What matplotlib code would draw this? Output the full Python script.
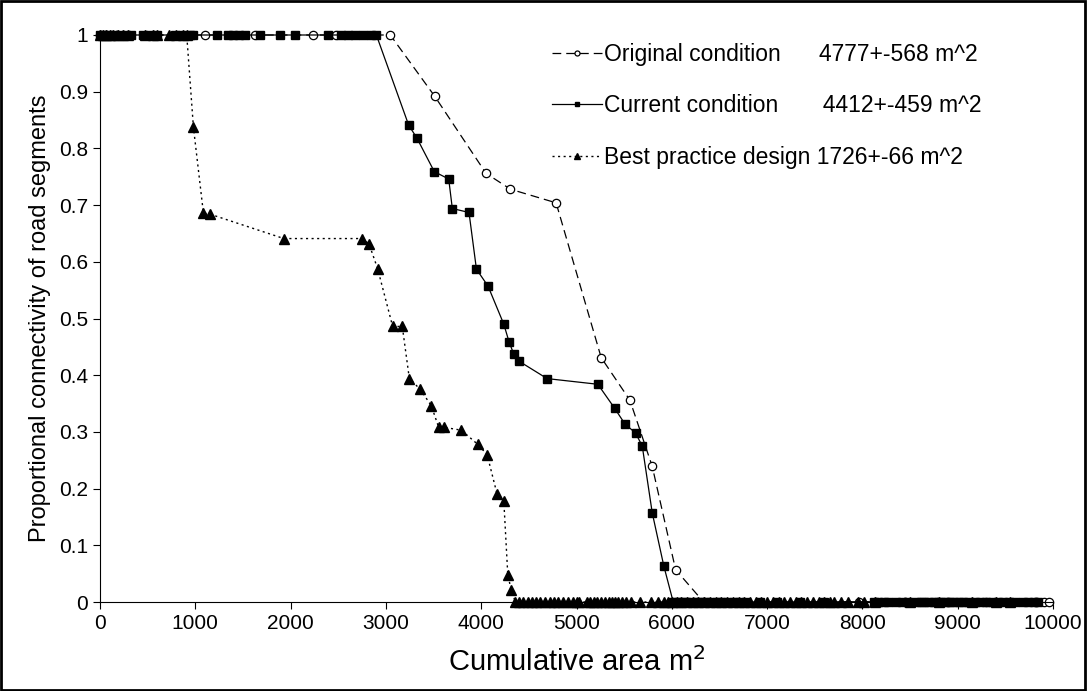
# import packages
import matplotlib
matplotlib.use('Agg')
import matplotlib.pyplot as plt
from matplotlib.patches import Rectangle

plt.rcParams['font.family'] = ['Liberation Sans', 'DejaVu Sans']

# original condition (open circles, dashed)
orig_top_x = [0, 60, 180, 1103, 1628, 2237, 2479, 3046]
orig_mid_x = [3512, 4051, 4307, 4786, 5259, 5560, 5795, 6040]
orig_mid_y = [0.892, 0.756, 0.728, 0.704, 0.431, 0.356, 0.239, 0.057]
orig_zero_x = [6334, 7962, 8450, 8900, 9300, 9821, 9905, 9958]

# current condition (filled squares, solid)
cur_top_x = [0, 40, 90, 150, 210, 270, 330, 450, 520, 600, 790, 860, 940, 980, 1230, 1340, 1400, 1460,
             1520, 1680, 1890, 2050, 2390, 2530, 2600, 2680, 2760, 2840, 2900]
cur_mid_x = [3239, 3326, 3508, 3659, 3697, 3872, 3950, 4072, 4237, 4292, 4342, 4394, 4692, 5224, 5399,
             5508, 5620, 5690, 5795, 5917]
cur_mid_y = [0.841, 0.818, 0.759, 0.746, 0.694, 0.687, 0.587, 0.557, 0.490, 0.459, 0.437, 0.425,
             0.394, 0.384, 0.342, 0.314, 0.298, 0.275, 0.157, 0.063]
cur_zero_x = [6015, 6060, 6110, 6150, 6200, 6260, 6300, 6350, 6400, 6470, 6520, 6580, 6650, 6700, 6780,
              6930, 7100, 7350, 7600, 8120, 8160, 8230, 8270, 8350, 8420, 8480, 8560, 8610, 8650, 8700,
              8750, 8790, 8830, 8880, 8920, 8960, 9010, 9060, 9110, 9180, 9230, 9300, 9360, 9420, 9480,
              9540, 9600, 9680, 9740, 9800, 9840]

# best practice design (filled triangles, dotted)
best_top_x = [0, 30, 60, 100, 140, 190, 240, 290, 470, 560, 600, 720, 800, 870, 910]
best_mid_x = [980, 1085, 1155, 1929, 2749, 2822, 2913, 3071, 3172, 3246, 3361, 3477, 3554, 3613, 3792,
              3964, 4062, 4167, 4237, 4279, 4314]
best_mid_y = [0.838, 0.686, 0.684, 0.641, 0.641, 0.632, 0.588, 0.486, 0.486, 0.394, 0.375, 0.346,
              0.308, 0.308, 0.303, 0.278, 0.260, 0.190, 0.179, 0.048, 0.022]
best_zero_x = [4359, 4400, 4440, 4490, 4530, 4580, 4620, 4670, 4720, 4760, 4810, 4860, 4910, 4960, 5010,
               5030, 5105, 5140, 5180, 5220, 5260, 5300, 5340, 5370, 5400, 5440, 5480, 5520, 5567, 5662,
               5777, 5850, 5915, 5960, 6000, 6050, 6100, 6160, 6220, 6280, 6340, 6400, 6460, 6520, 6580,
               6640, 6700, 6760, 6820, 6880, 6940, 7000, 7060, 7120, 7180, 7240, 7300, 7360, 7420, 7480,
               7540, 7600, 7660, 7700, 7773, 7847, 7951, 8014, 8130, 8500, 8800, 9150, 9400, 9550]

labels = ['Original condition      4777+-568 m^2',
          'Current condition       4412+-459 m^2',
          'Best practice design 1726+-66 m^2']

orig_x = orig_top_x + orig_mid_x + orig_zero_x
orig_y = [1] * len(orig_top_x) + orig_mid_y + [0] * len(orig_zero_x)
cur_x = cur_top_x + cur_mid_x + cur_zero_x
cur_y = [1] * len(cur_top_x) + cur_mid_y + [0] * len(cur_zero_x)
best_x = best_top_x + best_mid_x + best_zero_x
best_y = [1] * len(best_top_x) + best_mid_y + [0] * len(best_zero_x)

fig = plt.figure(figsize=(10.87, 6.91), dpi=100)
ax = fig.add_axes([100 / 1087, 1 - 602 / 691, 953 / 1087, 567 / 691])

ax.plot(orig_x, orig_y, color='black', lw=0.9, linestyle=(0, (7, 4)), marker='o', ms=6,
        mfc='white', mec='black', mew=0.9, clip_on=False, label=labels[0])
ax.plot(cur_x, cur_y, color='black', lw=0.9, linestyle='-', marker='s', ms=6,
        mfc='black', mec='black', clip_on=False, label=labels[1])
ax.plot(best_x, best_y, color='black', lw=1.0, linestyle=(0, (1.5, 2.5)), marker='^', ms=6.5,
        mfc='black', mec='black', clip_on=False, label=labels[2])

ax.set_xlim(0, 10000)
ax.set_ylim(0, 1)
ax.set_xticks(range(0, 10001, 1000))
ax.set_yticks([i / 10 for i in range(11)])
ax.set_yticklabels(['0', '0.1', '0.2', '0.3', '0.4', '0.5', '0.6', '0.7', '0.8', '0.9', '1'])
ax.tick_params(labelsize=15, length=5, width=0.8, direction='out')
ax.spines['top'].set_visible(False)
ax.spines['right'].set_visible(False)

ax.set_xlabel('Cumulative area m$^2$', fontsize=21, labelpad=10)
ax.set_ylabel('Proportional connectivity of road segments', fontsize=17, labelpad=6)

ax.legend(loc='upper left', bbox_to_anchor=(531 / 1087, 1 - 22 / 691), bbox_transform=fig.transFigure,
          frameon=False, fontsize=16.5, handlelength=2.2, handletextpad=0.1, labelspacing=1.25,
          markerscale=0.6)

# frame round the whole picture
fig.patches.append(Rectangle((0.001, 0.001), 0.997, 0.997, transform=fig.transFigure,
                             fill=False, edgecolor='black', lw=2))

plt.savefig('out.png', dpi=100)
